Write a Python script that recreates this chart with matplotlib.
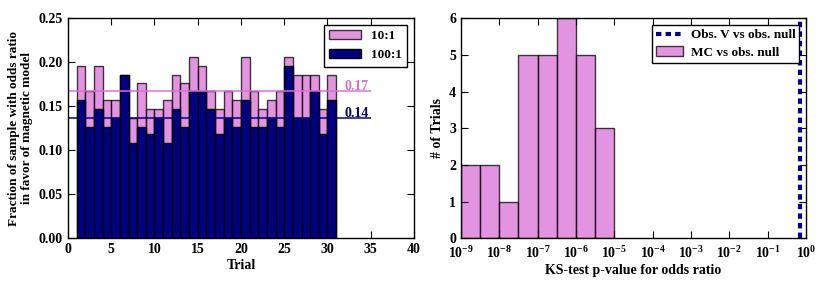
import matplotlib
matplotlib.use("Agg")
import matplotlib.pyplot as plt
import numpy as np

plt.rcParams['font.family'] = ['Liberation Serif', 'DejaVu Serif']
plt.rcParams['font.weight'] = 'bold'
plt.rcParams['font.size'] = 10
plt.rcParams['axes.labelweight'] = 'bold'
plt.rcParams['mathtext.fontset'] = 'custom'
plt.rcParams['mathtext.rm'] = 'Liberation Serif:bold'
plt.rcParams['mathtext.it'] = 'Liberation Serif:bold'
plt.rcParams['mathtext.bf'] = 'Liberation Serif:bold'
plt.rcParams['xtick.direction'] = 'in'
plt.rcParams['ytick.direction'] = 'in'
plt.rcParams['xtick.top'] = True
plt.rcParams['ytick.right'] = True

# --- left panel data: fraction of sample favouring magnetic model per trial
trials = list(range(1, 31))
frac_10 = [0.196, 0.167, 0.196, 0.157, 0.157, 0.186, 0.137, 0.176, 0.147, 0.147,
           0.157, 0.186, 0.176, 0.206, 0.196, 0.167, 0.147, 0.167, 0.157, 0.206,
           0.167, 0.147, 0.157, 0.167, 0.206, 0.186, 0.186, 0.186, 0.147, 0.186]
frac_100 = [0.157, 0.127, 0.147, 0.127, 0.137, 0.186, 0.108, 0.127, 0.118, 0.137,
            0.108, 0.147, 0.127, 0.167, 0.167, 0.147, 0.118, 0.137, 0.127, 0.157,
            0.127, 0.127, 0.137, 0.127, 0.196, 0.137, 0.137, 0.167, 0.118, 0.157]
level_10 = 0.167
level_100 = 0.137
level_labels = ['0.17', '0.14']

# --- right panel data: KS-test p-value histogram
bin_exp = [-9, -8.5, -8, -7.5, -7, -6.5, -6, -5.5, -5]
bin_counts = [2, 2, 1, 5, 5, 6, 5, 3]
obs_pvalue = 0.7

pink = 'orchid'
navy = 'navy'

fig = plt.figure(figsize=(8.3, 2.91), dpi=100)
ax1 = fig.add_axes([0.0819, 0.181, 0.4169, 0.756])
ax2 = fig.add_axes([0.5554, 0.181, 0.4157, 0.756])

ax1.bar(trials, frac_10, width=1, align='edge', color=pink, edgecolor='black',
        alpha=0.75, lw=1, label='10:1')
ax1.bar(trials, frac_100, width=1, align='edge', color=navy, edgecolor='black',
        lw=1, label='100:1')
ax1.hlines(level_10, 0, 35, color=pink, alpha=0.75, lw=1.5)
ax1.hlines(level_100, 0, 35, color=navy, alpha=0.75, lw=1.5)
ax1.text(32, level_10 + 0.001, level_labels[0], color=pink)
ax1.text(32, level_100 + 0.001, level_labels[1], color=navy)
ax1.set_xlim(0, 40)
ax1.set_ylim(0, 0.25)
ax1.set_yticks(np.arange(0, 0.26, 0.05))
ax1.yaxis.set_major_formatter(matplotlib.ticker.FormatStrFormatter('%.2f'))
ax1.set_xlabel('Trial', labelpad=2)
ax1.set_ylabel('Fraction of sample with odds ratio\nin favor of magnetic model',
               fontsize=9.5)
leg1 = ax1.legend(loc='upper right', fancybox=False, edgecolor='black',
                  framealpha=1, handlelength=2.4, borderpad=0.4,
                  labelspacing=0.5, fontsize=9.5)
leg1.get_frame().set_linewidth(1)

edges = 10.0 ** np.array(bin_exp)
centers = np.sqrt(edges[:-1] * edges[1:])
ax2.hist(centers, bins=edges, weights=bin_counts, color=pink, alpha=0.75,
         edgecolor='black', lw=1, label='MC vs obs. null')
ax2.axvline(obs_pvalue, color=navy, lw=3, linestyle=(0, (1.3, 1.0)),
            label='Obs. V vs obs. null')
ax2.set_xscale('log')
ax2.set_xlim(1e-9, 1)
ax2.set_ylim(0, 6)
ax2.set_xticks(10.0 ** np.arange(-9, 1))
ax2.set_xlabel('KS-test p-value for odds ratio', labelpad=2)
ax2.set_ylabel('# of Trials')
h, l = ax2.get_legend_handles_labels()
leg2 = ax2.legend(h[::-1], l[::-1], loc='upper right', fancybox=False,
                  edgecolor='black', framealpha=1, handlelength=2.0,
                  borderpad=0.3, labelspacing=0.4, fontsize=9.5,
                  handletextpad=0.6)
leg2.get_frame().set_linewidth(1)

for ax in (ax1, ax2):
    ax.tick_params(which='major', length=5, width=0.8)
    ax.tick_params(which='minor', length=2.5, width=0.6)
    for s in ax.spines.values():
        s.set_linewidth(1)
ax2.tick_params(axis='x', pad=5)

fig.savefig('out.png', dpi=100)
